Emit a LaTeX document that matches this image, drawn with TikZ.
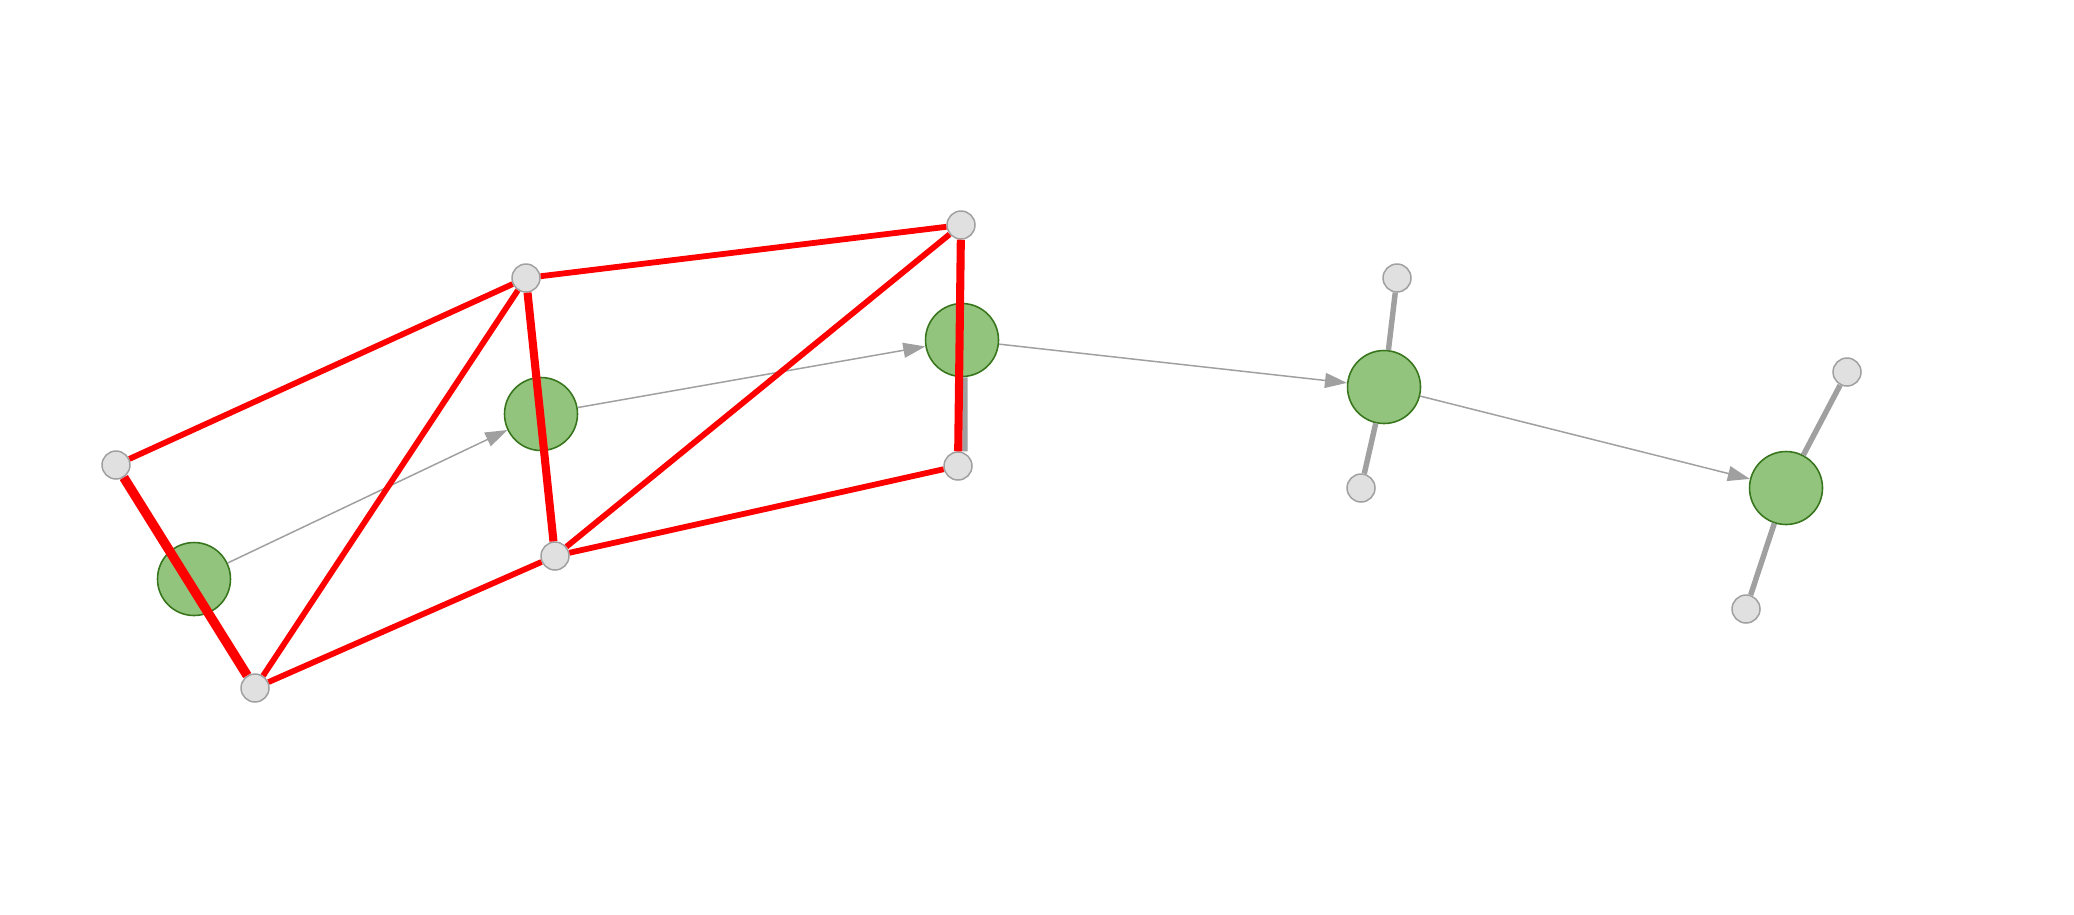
\documentclass[tikz,border=0pt]{standalone}
\usepackage{xcolor}
\usepackage{tikz}
\usetikzlibrary{arrows.meta}

\definecolor{cfill}{HTML}{93C47D}
\definecolor{cdraw}{HTML}{38761D}
\definecolor{hfill}{HTML}{E0E0E0}
\definecolor{hdraw}{HTML}{A0A0A0}
\definecolor{bondgray}{HTML}{A0A0A0}

\begin{document}
\begin{tikzpicture}[x=0.02cm, y=-0.02cm,
  big/.style={circle, draw=cdraw, fill=cfill, line width=0.9pt, minimum size=1.46cm, inner sep=0pt},
  small/.style={circle, draw=hdraw, fill=hfill, line width=0.85pt, minimum size=0.56cm, inner sep=0pt},
  bond/.style={color=bondgray, line width=3.1pt},
  flow/.style={color=bondgray, line width=0.85pt, -{Triangle[length=0.44cm, width=0.3cm]}},
  link/.style={color=red, line width=3.3pt},
  heavy/.style={line width=4.6pt},
  heavier/.style={line width=5.4pt}]
  \useasboundingbox (0,0) rectangle (2074,914);

  % big nodes
  \node[big] (c1) at (194,579) {};
  \node[big] (c2) at (541,414) {};
  \node[big] (c3) at (962,340) {};
  \node[big] (c4) at (1384,387) {};
  \node[big] (c5) at (1786,488) {};

  % small nodes
  \node[small] (h1) at (116,465) {};
  \node[small] (h2) at (255,688) {};
  \node[small] (h3) at (526,278) {};
  \node[small] (h4) at (555,556) {};
  \node[small] (h5) at (961,225) {};
  \node[small] (h6) at (958,466) {};
  \node[small] (h7) at (1397,278) {};
  \node[small] (h8) at (1361,488) {};
  \node[small] (h9) at (1847,372) {};
  \node[small] (h10) at (1746,609) {};

  \draw[bond] ([xshift=0.06cm]c3.south) -- ([xshift=0.14cm]h6.north);
  \path[bond]
  (c4) edge (h7)
  (c4) edge (h8)
  (c5) edge (h9)
  (c5) edge (h10)
  ;
  \path[flow]
  (c1) edge (c2)
  (c2) edge (c3)
  (c3) edge (c4)
  (c4) edge (c5)
  ;
  \path[link]
  (h1) edge (h3)
  (h1) edge[heavier] (h2)
  (h2) edge (h3)
  (h2) edge (h4)
  (h3) edge (h5)
  (h3) edge[heavy] (h4)
  (h4) edge (h5)
  (h4) edge (h6)
  (h5) edge[heavy] (h6)
  ;
\end{tikzpicture}
\end{document}
